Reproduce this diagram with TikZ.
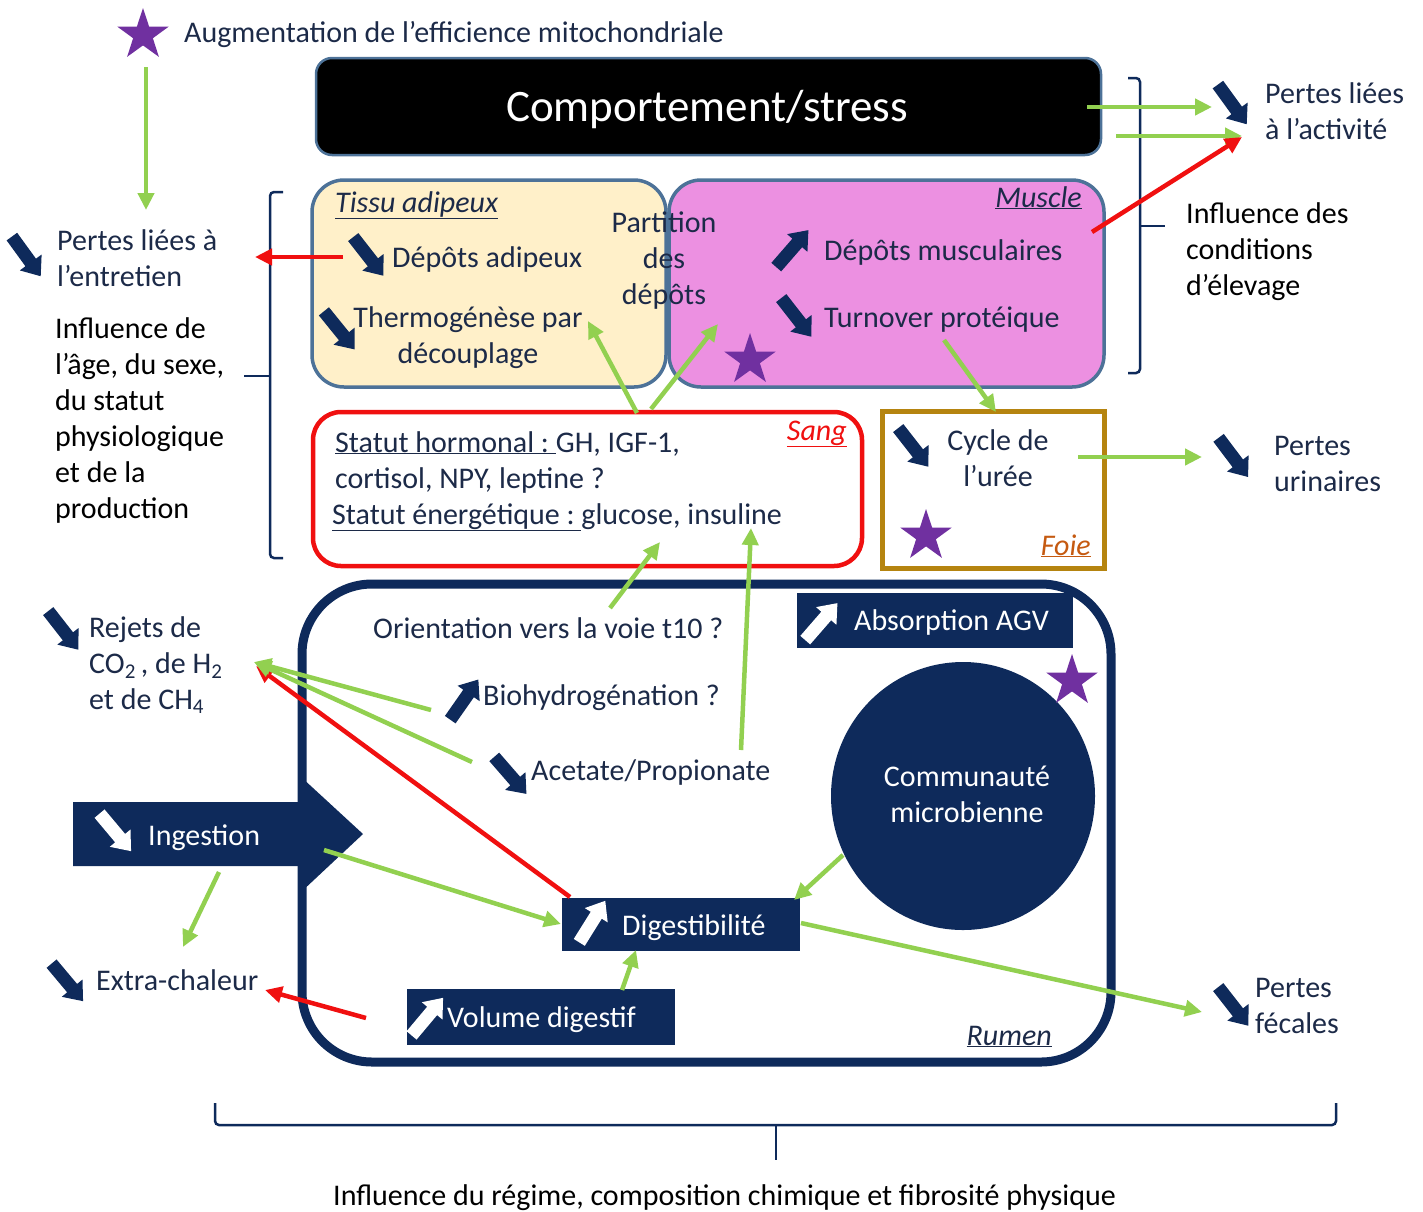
\documentclass[tikz,border=0pt]{standalone}
\usepackage{fontspec}
\setmainfont{Carlito}
\usetikzlibrary{arrows.meta,shapes.geometric}

\definecolor{navy}{HTML}{0E2A5B}
\definecolor{ink}{HTML}{1C2A48}
\definecolor{leaf}{HTML}{92D050}
\definecolor{alarm}{HTML}{F01010}
\definecolor{violet}{HTML}{7030A0}
\definecolor{fatfill}{HTML}{FFF0C9}
\definecolor{musclefill}{HTML}{EC90E1}
\definecolor{tissueedge}{HTML}{4D7298}
\definecolor{liveredge}{HTML}{B5840F}
\definecolor{livertext}{HTML}{C55A11}

% multi-line labels are placed by the baseline of their last line
\tikzset{
  lbl/.style={font=\fontsize{30}{36}\selectfont, text=ink, inner sep=0pt, align=left},
  blk/.style={lbl, text=black},
  wlbl/.style={lbl, text=white},
  gain/.style={draw=leaf, line width=4.5pt, -{Triangle[length=17pt,width=16pt]}},
  loss/.style={draw=alarm, line width=4.5pt, -{Triangle[length=17pt,width=16pt]}},
  brace/.style={draw=navy, line width=2.5pt, rounded corners=4pt},
  starmark/.style={star, star points=5, star point ratio=2.6, fill=violet, minimum size=54pt, inner sep=0pt},
  tissue/.style={draw=tissueedge, line width=3.5pt, rounded corners=32pt},
  navybox/.style={fill=navy, inner sep=0pt},
  navyicon/.pic={\fill[navy] (-24,-6.5) -- (8,-6.5) -- (8,-13.5) -- (25,0) -- (8,13.5) -- (8,6.5) -- (-24,6.5) -- cycle;},
  whiteicon/.pic={\fill[white] (-24,-6.5) -- (8,-6.5) -- (8,-13.5) -- (25,0) -- (8,13.5) -- (8,6.5) -- (-24,6.5) -- cycle;},
}

\begin{document}
\begin{tikzpicture}[x=1pt,y=-1pt]
\useasboundingbox (0,0) rectangle (1423,1211);

% ---------- top: behaviour ----------
\node[starmark] (topstar) at (143,35) {};
\node[lbl, anchor=base west] (mito) at (184,42) {Augmentation de l’efficience mitochondriale};

\node[fill=black, draw=tissueedge, line width=2.5pt, rounded corners=16pt,
      minimum width=785pt, minimum height=97pt] (behav) at (708.5,106.5) {};
\node[font=\fontsize{45}{52}\selectfont, text=white, inner sep=0pt, anchor=base] (behavtxt) at (707,121) {Comportement/stress};

% ---------- tissues ----------
\node[tissue, fill=fatfill, minimum width=354pt, minimum height=207pt] (fat) at (489,283.5) {};
\node[tissue, fill=musclefill, minimum width=435pt, minimum height=207pt] (muscle) at (886.5,283.5) {};

\node[lbl, anchor=base west] (fatlbl) at (335,212) {\textit{\underline{Tissu adipeux}}};
\node[lbl, anchor=base east] (musclelbl) at (1082,207) {\textit{\underline{Muscle}}};
\node[lbl, align=center, anchor=base] (partition) at (664,304) {Partition\\des\\dépôts};
\node[lbl, anchor=base west] (fatdep) at (392,267) {Dépôts adipeux};
\node[lbl, align=center, anchor=base] (thermo) at (468,363) {Thermogénèse par\\découplage};
\node[lbl, anchor=base west] (musdep) at (824,260) {Dépôts musculaires};
\node[lbl, anchor=base west] (turnover) at (824,327) {Turnover protéique};
\node[starmark] (musclestar) at (750,360) {};

\pic[rotate=-52] at (368,256) {navyicon};
\pic[rotate=-51] at (339,330) {navyicon};
\pic[rotate=49] at (792,249) {navyicon};
\pic[rotate=-52] at (796,317) {navyicon};

% ---------- blood ----------
\node[draw=alarm, line width=4.5pt, rounded corners=28pt, fill=white,
      minimum width=549pt, minimum height=154pt] (blood) at (587.5,489) {};
\node[lbl, anchor=base east, text=alarm] (bloodlbl) at (847,440) {\textit{\underline{Sang}}};
\node[lbl, anchor=base west] (hormones) at (335,524)
  {\underline{Statut hormonal :\ }GH, IGF-1,\\cortisol, NPY, leptine ?\\\kern-3pt\underline{Statut énergétique :\ }glucose, insuline};

% ---------- liver ----------
\node[draw=liveredge, line width=5pt, fill=white, minimum width=222pt, minimum height=157pt] (liver) at (993.5,490) {};
\node[lbl, align=center, anchor=base] (urea) at (998,486) {Cycle de\\l’urée};
\node[lbl, anchor=base east, text=livertext] (liverlbl) at (1091,555) {\textit{\underline{Foie}}};
\node[starmark] (liverstar) at (926,536) {};
\pic[rotate=-52] at (913,447) {navyicon};

% ---------- rumen ----------
\node[draw=navy, line width=9pt, rounded corners=70pt, minimum width=809pt, minimum height=478pt] (rumen) at (706.5,823) {};
\node[lbl, anchor=base east] (rumenlbl) at (1052,1045) {\textit{\underline{Rumen}}};

\fill[navy] (73,802) -- (300,802) -- (300,776) -- (363,834) -- (300,893) -- (300,866) -- (73,866) -- cycle;
\node[wlbl, anchor=base west] (ingestion) at (148,845) {Ingestion};
\pic[rotate=-50] at (115,832) {whiteicon};

\node[navybox, minimum width=276pt, minimum height=55pt] (absbox) at (935,620.5) {};
\node[wlbl, anchor=base west] (absorption) at (854,630) {Absorption AGV};
\pic[rotate=49] at (821,622) {whiteicon};

\node[ellipse, fill=navy, minimum width=264pt, minimum height=268pt, inner sep=0pt] (microbes) at (963,796) {};
\node[wlbl, align=center, anchor=base] (microbestxt) at (967,822) {Communauté\\microbienne};
\node[starmark] (rumenstar) at (1072,681) {};

\node[navybox, minimum width=238pt, minimum height=53pt] (digbox) at (681,924.5) {};
\node[wlbl, anchor=base west] (digest) at (622,935) {Digestibilité};
\pic[rotate=58] at (592,922) {whiteicon};

\node[navybox, minimum width=268pt, minimum height=56pt] (volbox) at (541,1017) {};
\node[wlbl, anchor=base west] (volume) at (447,1027) {Volume digestif};
\pic[rotate=50] at (427,1017) {whiteicon};

\node[lbl, anchor=base west] (orient) at (373,638) {Orientation vers la voie t10 ?};
\node[lbl, anchor=base west] (biohyd) at (483,705) {Biohydrogénation ?};
\node[lbl, anchor=base west] (acetate) at (531,780) {Acetate/Propionate};
\pic[rotate=55] at (464,700) {navyicon};
\pic[rotate=-49] at (510,775) {navyicon};

% ---------- losses ----------
\node[lbl, anchor=base west] (actloss) at (1265,139) {Pertes liées\\à l’activité};
\pic[rotate=-54] at (1232,104) {navyicon};
\node[blk, anchor=base west] (rearing) at (1186,295) {Influence des\\conditions\\d’élevage};

\node[lbl, anchor=base west] (maintloss) at (57,286) {Pertes liées à\\l’entretien};
\pic[rotate=-54] at (26,256) {navyicon};
\node[blk, anchor=base west] (animal) at (55,518) {Influence de\\l’âge, du sexe,\\du statut\\physiologique\\et de la\\production};

\node[lbl, anchor=base west] (urinloss) at (1274,491) {Pertes\\urinaires};
\pic[rotate=-53] at (1233,457) {navyicon};

\node[lbl, anchor=base west] (gas) at (89,709) {Rejets de\\CO\textsubscript{2}\,, de H\textsubscript{2}\\et de CH\textsubscript{4}};
\pic[rotate=-52] at (63,630) {navyicon};

\node[lbl, anchor=base west] (heat) at (96,990) {Extra-chaleur};
\pic[rotate=-50] at (67,982) {navyicon};

\node[lbl, anchor=base west] (faecal) at (1255,1033) {Pertes\\fécales};
\pic[rotate=-52] at (1233,1006) {navyicon};

\node[blk, anchor=base west] (diet) at (333,1205) {Influence du régime, composition chimique et fibrosité physique};

% ---------- brackets ----------
\draw[brace] (283,192) -- (270,192) -- (270,558) -- (283,558);
\draw[brace] (244,376) -- (270,376);
\draw[brace] (1128,78) -- (1140,78) -- (1140,373) -- (1128,373);
\draw[brace] (1140,226) -- (1165,226);
\draw[brace] (215,1103) -- (215,1125) -- (1336,1125) -- (1336,1103);
\draw[brace] (776,1125) -- (776,1160);

% ---------- connector end points ----------
\coordinate (mitoout) at (146,67);     \coordinate (maintin) at (146,210);
\coordinate (behavout1) at (1087,107); \coordinate (actin1) at (1212,107);
\coordinate (behavout2) at (1116,136); \coordinate (actin2) at (1242,136);
\coordinate (muscleout) at (1092,232); \coordinate (actin3) at (1242,137);
\coordinate (fatout) at (343,257);     \coordinate (maintin2) at (255,257);
\coordinate (bloodout1) at (637,413);  \coordinate (thermoin) at (588,321);
\coordinate (bloodout2) at (651,409);  \coordinate (musclein) at (718,324);
\coordinate (turnout) at (944,340);    \coordinate (liverin) at (996,412);
\coordinate (ureaout) at (1078,457);   \coordinate (urinin) at (1202,457);
\coordinate (orientout) at (610,608);  \coordinate (bloodin1) at (660,542);
\coordinate (acetout1) at (741,750);   \coordinate (bloodin2) at (751,528);
\coordinate (biohydout) at (431,710);  \coordinate (gasin) at (254,662);
\coordinate (acetout2) at (472,762);
\coordinate (digout1) at (570,897);    \coordinate (gasin2) at (256,666);
\coordinate (ingout1) at (324,850);    \coordinate (digin1) at (561,924);
\coordinate (microout) at (843,855);   \coordinate (digin2) at (794,900);
\coordinate (digout2) at (801,923);    \coordinate (faecalin) at (1202,1012);
\coordinate (volout1) at (622,990);    \coordinate (digin3) at (636,950);
\coordinate (volout2) at (366,1018);   \coordinate (heatin1) at (265,990);
\coordinate (ingout2) at (219,872);    \coordinate (heatin2) at (183,947);

% ---------- connectors ----------
\draw[gain] (mitoout) -- (maintin);
\draw[gain] (behavout1) -- (actin1);
\draw[gain] (behavout2) -- (actin2);
\draw[loss] (muscleout) -- (actin3);
\draw[loss] (fatout) -- (maintin2);
\draw[gain] (bloodout1) -- (thermoin);
\draw[gain] (bloodout2) -- (musclein);
\draw[gain] (turnout) -- (liverin);
\draw[gain] (ureaout) -- (urinin);
\draw[gain] (orientout) -- (bloodin1);
\draw[gain] (acetout1) -- (bloodin2);
\draw[loss] (digout1) -- (gasin2);
\draw[gain] (biohydout) -- (gasin);
\draw[gain] (acetout2) -- (gasin);
\draw[gain] (ingout1) -- (digin1);
\draw[gain] (microout) -- (digin2);
\draw[gain] (digout2) -- (faecalin);
\draw[gain] (volout1) -- (digin3);
\draw[loss] (volout2) -- (heatin1);
\draw[gain] (ingout2) -- (heatin2);
\end{tikzpicture}
\end{document}
